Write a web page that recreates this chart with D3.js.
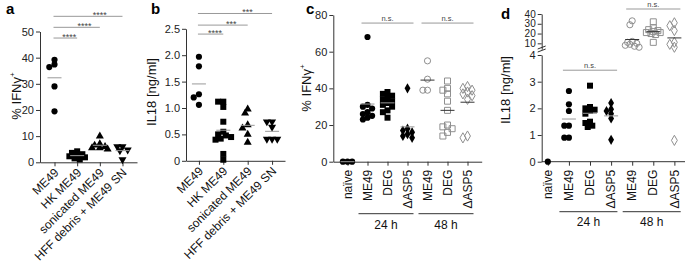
<!DOCTYPE html>
<html>
<head>
<meta charset="utf-8">
<script src="https://cdn.jsdelivr.net/npm/d3@7"></script>
<style>
  body { margin: 0; background: #fff; }
  svg text { font-family: "Liberation Sans", Arial, sans-serif; }
</style>
</head>
<body>
<script>
// ---- data: panels a / b
const abGroups = ["ME49", "HK ME49", "sonicated ME49", "HFF debris + ME49 SN"];
const abSymbols = ["circle", "square", "triangle", "triangleDown"];
const ifnA = [
  [39.2, 37.4, 36.4, 29, 19.5],
  [4.2, 3.6, 3.1, 2.7, 2.3, 1.9, 1.5, 1.1],
  [10, 7, 6.5, 6, 5.5, 5.5, 5],
  [6, 6, 4.8, 4.5, 1]
];
const il18B = [
  [1.97, 1.79, 1.26, 1.2, 1.06],
  [1.12, 1.12, 1.02, 0.74, 0.55, 0.5, 0.48, 0.45, 0.42, 0.4, 0.13, 0.02],
  [0.98, 0.9, 0.68, 0.62, 0.5, 0.35],
  [0.74, 0.74, 0.64, 0.41, 0.41, 0.41]
];
const ticksA = [0, 10, 20, 30, 40, 50];
const ticksB = [0, 0.5, 1, 1.5, 2, 2.5];
// [from, to, label, level in data units]
const sigA = [[0, 1, "****", 47.5], [0, 2, "****", 51.6], [0, 3, "****", 55.8]];
const sigB = [[0, 1, "****", 2.40], [0, 2, "***", 2.57], [0, 3, "***", 2.79]];

// ---- data: panels c / d
const cdLabels = ["naïve", "ME49", "DEG", "ΔASP5", "ME49", "DEG", "ΔASP5"];
const cdSymbols = ["circle", "circle", "square", "diamond", "circle", "square", "diamond"];
const cdOpen = [false, false, false, false, true, true, true];
const timeLabels = ["24 h", "48 h"];
const timeGroups = [[1, 3], [4, 6]];
const ifnC = [
  [0, 0, 0],
  [68, 31, 30, 29, 27, 26, 25, 24, 23],
  [38, 37, 36, 35, 34, 33, 32, 31, 30, 28, 27, 24],
  [40, 18, 17, 16, 15, 14, 13],
  [55, 45, 39, 39],
  [44, 40, 39, 37, 33, 28, 20, 19, 18, 16, 14],
  [41, 40, 39, 38, 37, 36, 34, 14, 13]
];
const il18D = [
  [0],
  [2.65, 2.15, 1.9, 1.35, 1.35, 0.9, 0.9],
  [2.85, 2.05, 2.0, 1.95, 1.9, 1.8, 1.5, 1.45, 1.35, 1.3],
  [2.2, 1.97, 1.9, 1.8, 1.62, 0.82],
  [33, 29, 12, 11, 10, 9, 8, 7, 6],
  [32, 26, 24, 23, 22, 21, 21, 20, 19, 11],
  [31, 28, 23, 11, 9, 6, 0.8]
];
const ticksC = [0, 20, 40, 60, 80];
const ticksDLow = [0, 1, 2, 3, 4];
const ticksDHigh = [10, 20, 30, 40];
const sigC = [[1, 3, "n.s.", 75.6], [4, 6, "n.s.", 75.6]];
const sigD = [[1, 3, "n.s.", 3.43], [4, 6, "n.s.", 45.1]];

const W = 685, H = 264;
const svg = d3.select("body").append("svg").attr("width", W).attr("height", H);

const symbolTypes = {
  circle: d3.symbolCircle, square: d3.symbolSquare, triangle: d3.symbolTriangle,
  triangleDown: d3.symbolTriangle, diamond: d3.symbolDiamond
};
const symbolSize = { circle: 30, square: 36, triangle: 28, triangleDown: 28, diamond: 30 };

// simple beeswarm so overlapping dots spread sideways
function swarm(vals, y, cx, minD, step, maxK) {
  const pts = vals.map(v => ({ v, py: y(v) })).sort((a, b) => a.py - b.py);
  const placed = [];
  pts.forEach(p => {
    let best = 0, bestD = -1;
    for (let k = 0; k <= maxK; k++) {
      const off = k === 0 ? 0 : (k % 2 ? -1 : 1) * Math.ceil(k / 2) * step;
      const d = placed.length ? d3.min(placed, q => Math.hypot(q.px - cx - off, q.py - p.py)) : Infinity;
      if (d >= minD) { best = off; break; }
      if (d > bestD) { bestD = d; best = off; }
    }
    p.px = cx + best;
    placed.push(p);
  });
  return placed;
}

function drawDots(values, x, y, symbols, open, meanColor, step) {
  const g = svg.append("g");
  values.forEach((vals, i) => {
    const cx = x(i);
    const pts = swarm(vals, y, cx, 4.4, step, 6);
    const type = symbols[i];
    const isOpen = open ? open[i] : false;
    g.selectAll(null).data(pts).enter().append("path")
      .attr("d", d3.symbol().type(symbolTypes[type]).size(symbolSize[type])())
      .attr("transform", d => `translate(${d.px},${d.py})` + (type === "triangleDown" ? " rotate(180)" : ""))
      .attr("fill", isOpen ? "none" : "#000")
      .attr("stroke", isOpen ? "#8f8f8f" : "none")
      .attr("stroke-width", 1);
    if (vals.length > 1) {
      const m = y(d3.mean(vals));
      g.append("line")
        .attr("x1", cx - 7).attr("x2", cx + 7).attr("y1", m).attr("y2", m)
        .attr("stroke", isOpen ? "#333" : meanColor).attr("stroke-width", 1);
    }
  });
}

function styleAxis(g, size) {
  g.attr("font-family", null);
  g.selectAll("path,line").attr("stroke", "#333");
  g.selectAll("text").attr("font-size", size).attr("fill", "#222");
}

function leftAxis(x0, y, ticks, fmt, size = 11) {
  const g = svg.append("g").attr("transform", `translate(${x0},0)`)
    .call(d3.axisLeft(y).tickValues(ticks).tickFormat(fmt).tickSize(4).tickSizeOuter(0).tickPadding(2));
  styleAxis(g, size);
  return g;
}

function bottomAxis(y0, x, n, xEnd) {
  const g = svg.append("g").attr("transform", `translate(0,${y0})`)
    .call(d3.axisBottom(x).tickValues(d3.range(n)).tickFormat("").tickSize(4).tickSizeOuter(0));
  if (xEnd) g.select(".domain").attr("d", `M${x.range()[0]},0H${xEnd}`);
  styleAxis(g, 11);
  return g;
}

function yTitle(x, y, parts) {
  const t = svg.append("text")
    .attr("transform", `translate(${x},${y}) rotate(-90)`)
    .attr("text-anchor", "middle").attr("font-size", 13).attr("fill", "#111");
  t.append("tspan").text(parts[0]);
  if (parts[1]) t.append("tspan").attr("font-size", 8).attr("dy", -6).text(parts[1]);
}

function panelLetter(x, y, s) {
  svg.append("text").attr("x", x).attr("y", y).attr("font-size", 15)
    .attr("font-weight", "bold").attr("fill", "#000").text(s);
}

function sigBars(list, x, y, frac, fontSize) {
  list.forEach(([a, b, label, lvl]) => {
    const x1 = x(a) - (frac < 0.6 ? 6 : 1), x2 = x(b) + (frac < 0.6 ? 6 : 0), ly = y(lvl);
    svg.append("line").attr("x1", x1).attr("x2", x2).attr("y1", ly).attr("y2", ly)
      .attr("stroke", "#999").attr("stroke-width", 1);
    svg.append("text").attr("x", x1 + frac * (x2 - x1)).attr("y", frac < 0.6 ? ly - 2.5 : ly + 1.5)
      .attr("text-anchor", "middle").attr("font-size", fontSize).attr("fill", "#444").text(label);
  });
}

// ---------------- panel a
const xA = d3.scalePoint().domain(d3.range(4)).range([40, 137]).padding(0.64);
const yA = d3.scaleLinear().domain([0, 50]).range([162.3, 31.5]);
leftAxis(40, yA, ticksA, d3.format("d"));
bottomAxis(162.3, xA, 4);
drawDots(ifnA, xA, yA, abSymbols, null, "#999", 2.6);
sigBars(sigA, xA, yA, 0.67, 9);
yTitle(21, 96, ["% IFNγ", "+"]);
panelLetter(6, 14, "a");

// ---------------- panel b
const xB = d3.scalePoint().domain(d3.range(4)).range([186, 285]).padding(0.53);
const yB = d3.scaleLinear().domain([0, 2.5]).range([160.8, 28.8]);
leftAxis(186, yB, ticksB, d => d === 0 ? "0" : d3.format(".1f")(d));
bottomAxis(160.8, xB, 4);
drawDots(il18B, xB, yB, abSymbols, null, "#999", 2.6);
sigBars(sigB, xB, yB, 0.67, 9);
yTitle(156, 92, ["IL18 [ng/ml]"]);
panelLetter(151, 14, "b");

[[xA, 162.3], [xB, 160.8]].forEach(([x, y0]) => {
  svg.append("g").selectAll("text").data(abGroups).enter().append("text")
    .attr("transform", (d, i) => `translate(${x(i) + 2},${y0 + 8}) rotate(-45)`)
    .attr("text-anchor", "end").attr("dy", "0.35em")
    .attr("font-size", 12).attr("fill", "#111").text(d => d);
});

// ---------------- panel c
const xC = d3.scalePoint().domain(d3.range(7)).range([333.3, 481.7]).padding(0.71);
const yC = d3.scaleLinear().domain([0, 80]).range([161.7, 15]);
leftAxis(333.3, yC, ticksC, d3.format("d"));
bottomAxis(161.7, xC, 7);
drawDots(ifnC, xC, yC, cdSymbols, cdOpen, "#999", 2.3);
sigBars(sigC, xC, yC, 0.5, 7.5);
yTitle(311, 88, ["% IFNγ", "+"]);
panelLetter(306, 14, "c");

// ---------------- panel d (broken y axis)
const xD = d3.scalePoint().domain(d3.range(7)).range([541.7, 680.5]).padding(0.29);
const yDLow = d3.scaleLinear().domain([0, 4]).range([161.7, 55]);
const yDHigh = d3.scaleLinear().domain([4, 40]).range([49.2, 14]);
const yD = v => v <= 4 ? yDLow(v) : yDHigh(v);
leftAxis(541.7, yDLow, ticksDLow, d3.format("d"));
leftAxis(541.7, yDHigh, ticksDHigh, d3.format("d"), 10);
[47.5, 50.5].forEach(b => {
  svg.append("line").attr("x1", 537.7).attr("x2", 545.7).attr("y1", b + 1.5).attr("y2", b - 1.5)
    .attr("stroke", "#333").attr("stroke-width", 1);
});
bottomAxis(161.7, xD, 7, W);
drawDots(il18D, xD, yD, cdSymbols, cdOpen, "#999", 2.3);
sigBars(sigD, xD, yD, 0.5, 7.5);
yTitle(510, 90, ["IL18 [ng/ml]"]);
panelLetter(501, 19, "d");

// rotated category labels + time brackets for c and d
[[xC, 161.7, 52, 67], [xD, 161.7, 50, 64]].forEach(([x, y0, lineDy, textDy]) => {
  svg.append("g").selectAll("text").data(cdLabels).enter().append("text")
    .attr("transform", (d, i) => `translate(${x(i)},${y0 + 8}) rotate(-90)`)
    .attr("text-anchor", "end").attr("dy", "0.35em")
    .attr("font-size", 12).attr("fill", "#111").text(d => d);
  const step = x.step();
  timeGroups.forEach(([a, b], k) => {
    const x1 = x(a) - 0.45 * step, x2 = x(b) + 0.3 * step;
    svg.append("line").attr("x1", x1).attr("x2", x2)
      .attr("y1", y0 + lineDy).attr("y2", y0 + lineDy)
      .attr("stroke", "#333").attr("stroke-width", 1);
    svg.append("text").attr("x", (x1 + x2) / 2).attr("y", y0 + textDy)
      .attr("text-anchor", "middle").attr("font-size", 12).attr("fill", "#111")
      .text(timeLabels[k]);
  });
});
</script>
</body>
</html>
